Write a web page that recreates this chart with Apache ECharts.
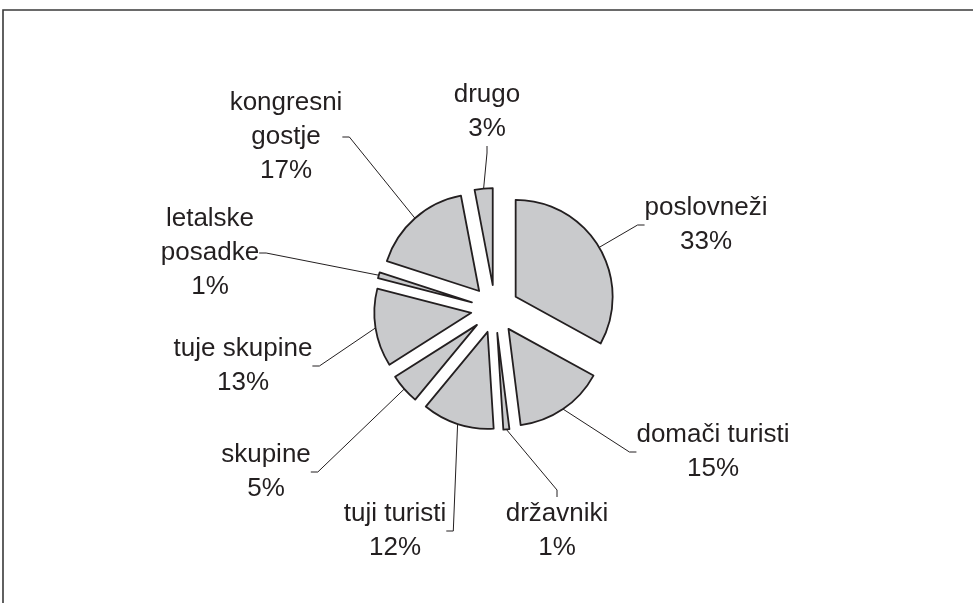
<!DOCTYPE html>
<html>
<head>
<meta charset="utf-8">
<script src="https://cdn.jsdelivr.net/npm/echarts@6/dist/echarts.min.js"></script>
<style>
  html, body { margin: 0; padding: 0; background: #ffffff; }
  #chart { width: 973px; height: 603px; }
</style>
</head>
<body>
<div id="chart"></div>
<script>
// kategorije gostov (v smeri urinega kazalca od vrha)
const categories = ['poslovneži', 'domači turisti', 'državniki', 'tuji turisti', 'skupine', 'tuje skupine', 'letalske\nposadke', 'kongresni\ngostje', 'drugo']
const shares = [33, 15, 1, 12, 5, 13, 1, 17, 3]

// središča oznak (postavitev)
const labelCenters = [
  [706, 225], [713, 452], [557, 531], [355, 531], [266, 472],
  [243, 366], [210, 253], [286, 137], [487, 112]
]
// dodaten levi odmik, da črta pride na desni rob oznake
const labelPadLeft = [0, 0, 0, 80, 0, 0, 0, 0, 0]

const ink = '#231f20'
const fill = '#c9cacc'
const pieCenter = [495, 309]
const pieRadius = 97
const explode = 24

const chart = echarts.init(document.getElementById('chart'))

const sliceData = categories.map((name, i) => ({ name: name, value: shares[i], selected: true }))
const labelData = categories.map((name, i) => ({
  name: name,
  value: shares[i],
  label: { padding: [0, 0, 0, labelPadLeft[i]] }
}))

const option = {
  animation: false,
  backgroundColor: '#ffffff',
  graphic: [{
    type: 'rect',
    shape: { x: 3, y: 10, width: 1100, height: 800 },
    style: { fill: 'none', stroke: '#3a3a3a', lineWidth: 1.6 },
    silent: true
  }],
  series: [
    {
      // izvlečeni izseki
      type: 'pie',
      center: pieCenter,
      radius: pieRadius,
      startAngle: 90,
      clockwise: true,
      selectedMode: 'multiple',
      selectedOffset: explode,
      silent: true,
      itemStyle: { color: fill, borderColor: ink, borderWidth: 1.8 },
      select: { itemStyle: { color: fill, borderColor: ink, borderWidth: 1.8 } },
      emphasis: { disabled: true },
      label: { show: false },
      labelLine: { show: false },
      data: sliceData
    },
    {
      // oznake s povezovalnimi črtami
      type: 'pie',
      center: pieCenter,
      radius: pieRadius + explode,
      startAngle: 90,
      clockwise: true,
      silent: true,
      z: 3,
      avoidLabelOverlap: false,
      itemStyle: { color: 'rgba(0,0,0,0)', borderWidth: 0 },
      emphasis: { disabled: true },
      label: {
        show: true,
        formatter: '{b}\n{c}%',
        color: ink,
        fontFamily: 'Liberation Sans, Arial, sans-serif',
        fontSize: 26,
        lineHeight: 34,
        align: 'center'
      },
      labelLine: {
        show: true,
        length: 10,
        length2: 7,
        lineStyle: { color: ink, width: 1 }
      },
      labelLayout: function (params) {
        const p = labelCenters[params.dataIndex]
        return { x: p[0], y: p[1], align: 'center', verticalAlign: 'middle' }
      },
      data: labelData
    }
  ]
}

chart.setOption(option)
</script>
</body>
</html>
